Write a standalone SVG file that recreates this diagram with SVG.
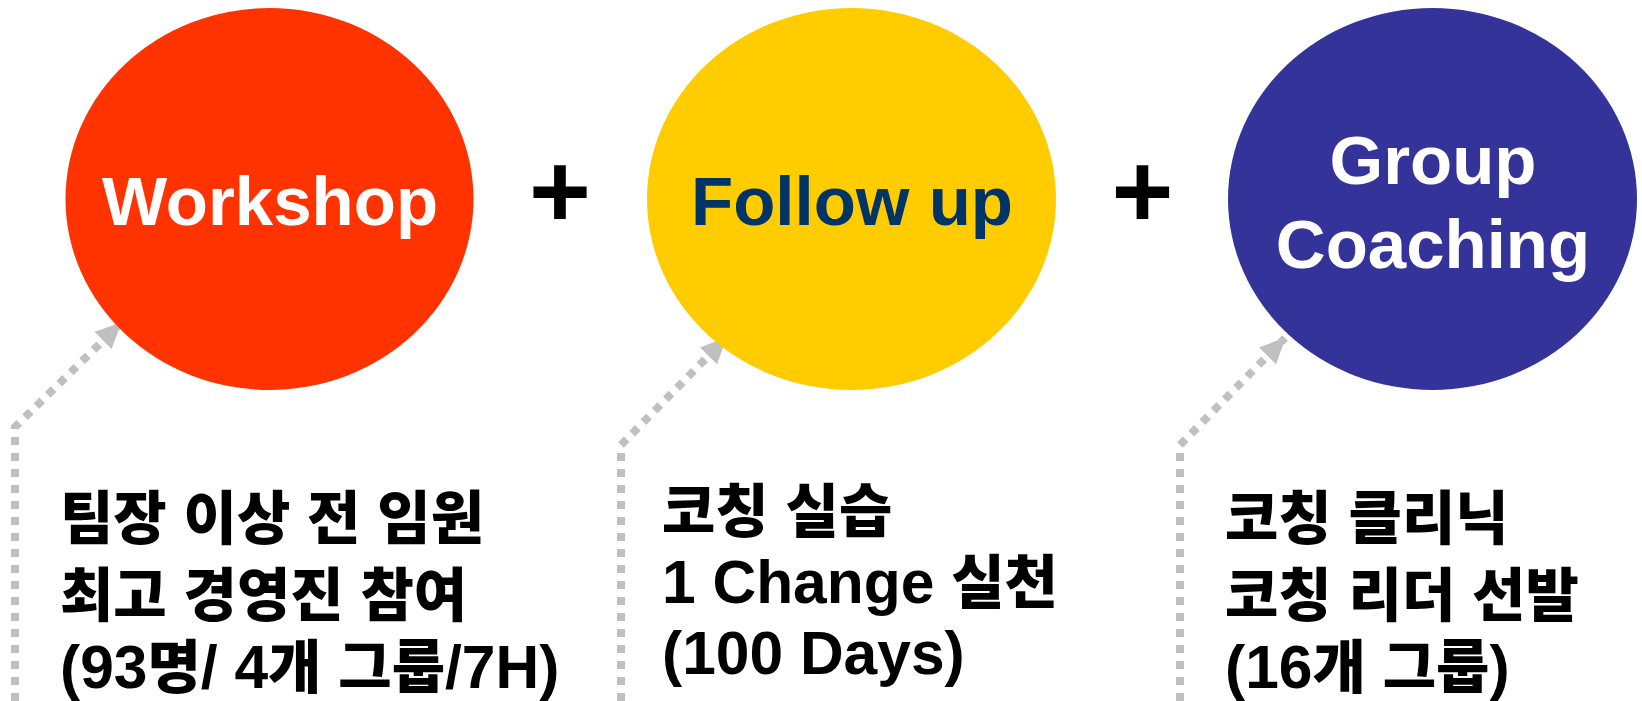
<svg xmlns="http://www.w3.org/2000/svg" width="1642" height="701" viewBox="0 0 1642 701">
<style>
.title{font-family:"Liberation Sans",Arial,sans-serif;font-weight:bold;font-size:69px;text-anchor:middle}
.desc{font-family:"Liberation Sans","Noto Sans CJK KR",sans-serif;font-weight:bold;font-size:60.5px;fill:#000}
.k{font-family:"Noto Sans CJK KR",sans-serif;font-size:58px;font-weight:900}
.plus{font-family:"Liberation Sans",Arial,sans-serif;font-weight:bold;font-size:106px;text-anchor:middle;fill:#000}
.conn{fill:none;stroke:#C0C0C0;stroke-width:8;stroke-dasharray:8 8;marker-end:url(#arr)}
</style>
<defs>
<marker id="arr" viewBox="0 0 26 24" refX="25" refY="12" markerWidth="26" markerHeight="24" markerUnits="userSpaceOnUse" orient="auto">
<path d="M0,0 L26,12 L0,24 z" fill="#C0C0C0"/>
</marker>
</defs>
<rect width="1642" height="701" fill="#fff"/>
<g id="connectors">
<path class="conn" d="M15,701 L15,427 L121,323"/>
<path class="conn" d="M621,701 L621,445 L726,338"/>
<path class="conn" d="M1180,701 L1180,445 L1285,338"/>
</g>
<g id="workshop">
<ellipse cx="269.5" cy="199" rx="204" ry="191" fill="#FF3300"/>
<text class="title" x="270" y="225" fill="#fff">Workshop</text>
</g>
<g id="plus1"><text class="plus" x="560" y="227">+</text></g>
<g id="followup">
<ellipse cx="851.5" cy="199" rx="204.5" ry="191" fill="#FFCC00"/>
<text class="title" x="852" y="225" fill="#003366">Follow up</text>
</g>
<g id="plus2"><text class="plus" x="1142.5" y="227">+</text></g>
<g id="groupcoaching">
<ellipse cx="1432.5" cy="199" rx="204.5" ry="191" fill="#333399"/>
<text class="title" x="1433" y="184" fill="#fff">Group</text>
<text class="title" x="1433" y="268" fill="#fff">Coaching</text>
</g>
<g id="desc-workshop">
<text class="desc" x="60" y="539"><tspan class="k">팀장</tspan> <tspan class="k">이상</tspan> <tspan class="k">전</tspan> <tspan class="k">임원</tspan></text>
<text class="desc" x="60" y="616"><tspan class="k">최고</tspan> <tspan class="k">경영진</tspan> <tspan class="k">참여</tspan></text>
<text class="desc" x="60" y="688">(93<tspan class="k">명</tspan>/ 4<tspan class="k">개</tspan> <tspan class="k">그룹</tspan>/7H)</text>
</g>
<g id="desc-followup">
<text class="desc" x="662" y="532"><tspan class="k">코칭</tspan> <tspan class="k">실습</tspan></text>
<text class="desc" x="662" y="603">1 Change <tspan class="k">실천</tspan></text>
<text class="desc" x="662" y="674">(100 Days)</text>
</g>
<g id="desc-groupcoaching">
<text class="desc" x="1225" y="539"><tspan class="k">코칭</tspan> <tspan class="k">클리닉</tspan></text>
<text class="desc" x="1225" y="616"><tspan class="k">코칭</tspan> <tspan class="k">리더</tspan> <tspan class="k">선발</tspan></text>
<text class="desc" x="1225" y="688">(16<tspan class="k">개</tspan> <tspan class="k">그룹</tspan>)</text>
</g>
</svg>
